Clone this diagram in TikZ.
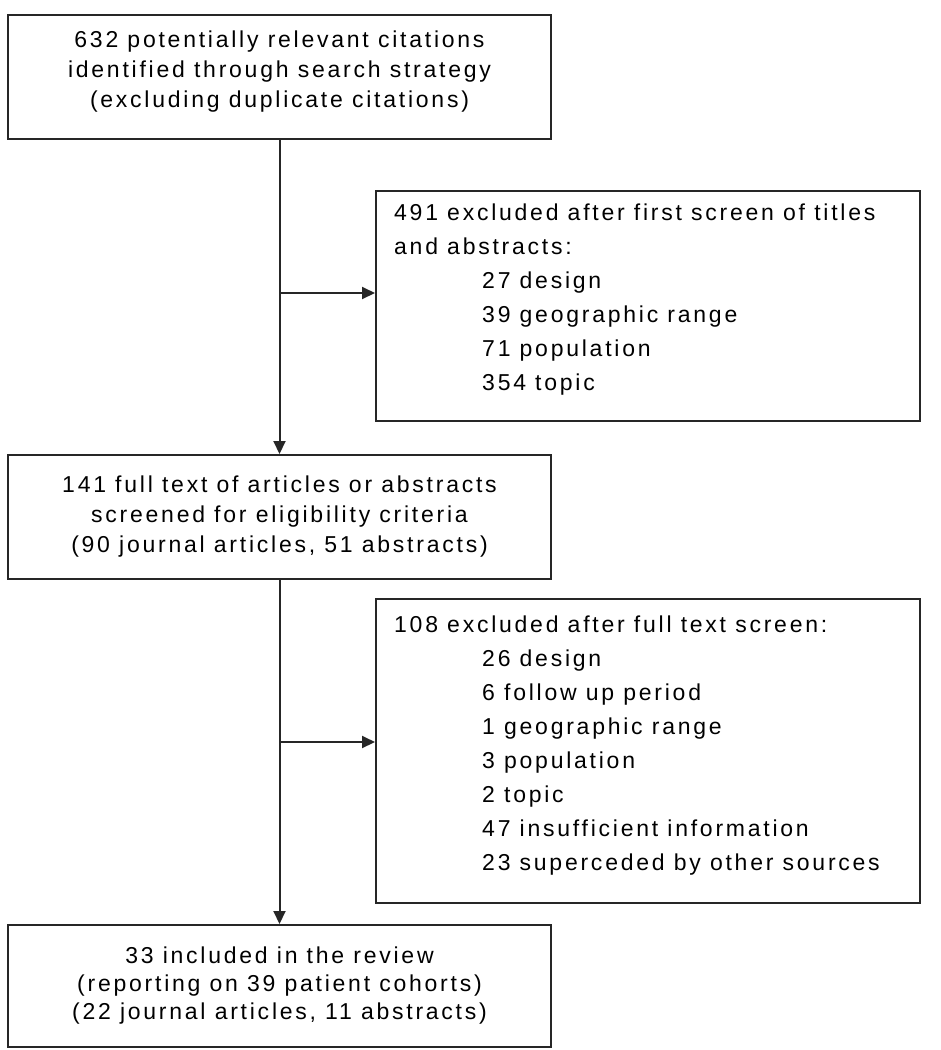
\documentclass[tikz,border=0pt]{standalone}
\usepackage{fontspec}
\setmainfont{Liberation Sans}[LetterSpace=12]
\usetikzlibrary{arrows.meta}
\newcommand{\reasonindent}{\hspace*{88pt}}
\tikzset{
	mainbox/.style={draw=black!85,line width=2pt,minimum width=543pt,align=center,inner sep=0pt,font=\fontsize{23}{30}\selectfont},
	exclbox/.style={draw=black!85,line width=2pt,minimum width=544pt},
	excltext/.style={align=left,anchor=north west,inner sep=0pt,font=\fontsize{23}{34}\selectfont},
	flow/.style={draw=black!85,line width=2pt,-{Triangle[length=13pt,width=12pt]}}
}
\begin{document}
\begin{tikzpicture}[x=1pt,y=-1pt]
	\useasboundingbox (0,0) rectangle (941,1050);

	\node[mainbox,minimum height=124pt,text depth=16pt] (found) at (279.5,77) {632 potentially relevant citations\\identified through search strategy\\(excluding duplicate citations)};
	\node[mainbox,minimum height=124pt] (screened) at (279.5,517) {141 full text of articles or abstracts\\screened for eligibility criteria\\(90 journal articles, 51 abstracts)};
	\node[mainbox,minimum height=122pt,font=\fontsize{23}{28}\selectfont] (included) at (279.5,986) {33 included in the review\\(reporting on 39 patient cohorts)\\(22 journal articles, 11 abstracts)};

	\node[exclbox,minimum height=230pt] (excl1) at (648,306) {};
	\node[excltext] (excl1text) at (394,204) {491 excluded after first screen of titles\\and abstracts:\\
		\reasonindent 27 design\\\reasonindent 39 geographic range\\\reasonindent 71 population\\\reasonindent 354 topic};
	\node[exclbox,minimum height=304pt] (excl2) at (648,751) {};
	\node[excltext] (excl2text) at (394,616) {108 excluded after full text screen:\\
		\reasonindent 26 design\\\reasonindent 6 follow up period\\\reasonindent 1 geographic range\\\reasonindent 3 population\\
		\reasonindent 2 topic\\\reasonindent 47 insufficient information\\\reasonindent 23 superceded by other sources};

	\coordinate (tap1) at ([yshift=13pt]excl1.west);
	\coordinate (tap2) at ([yshift=9pt]excl2.west);
	\draw[flow] (found) -- (screened);
	\draw[flow] (screened) -- (included);
	\draw[flow] (tap1 -| found.south) -- (tap1);
	\draw[flow] (tap2 -| screened.south) -- (tap2);
\end{tikzpicture}
\end{document}
